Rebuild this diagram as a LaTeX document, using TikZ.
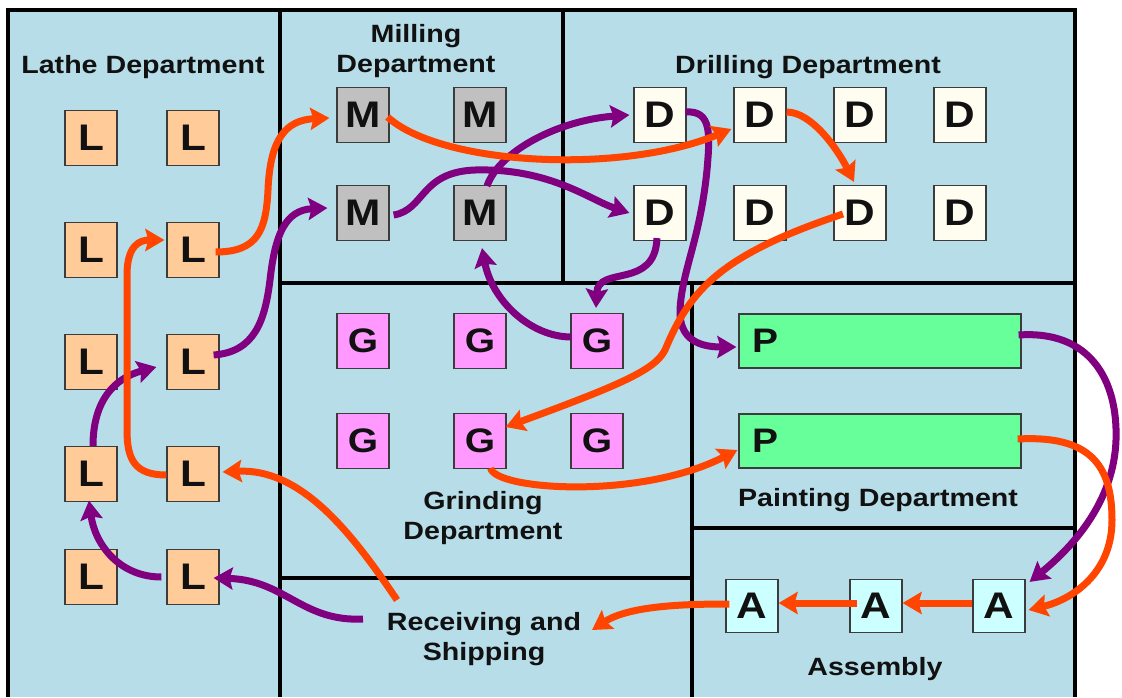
\documentclass[tikz,border=0pt]{standalone}
\usepackage{fontspec}
\setmainfont{Liberation Sans}[FakeStretch=1.145]
\usetikzlibrary{arrows.meta,calc}
\definecolor{cBg}{RGB}{182,221,232}
\definecolor{cL}{RGB}{255,204,153}
\definecolor{cM}{RGB}{192,192,192}
\definecolor{cD}{RGB}{255,252,240}
\definecolor{cG}{RGB}{255,153,255}
\definecolor{cP}{RGB}{102,255,153}
\definecolor{cA}{RGB}{204,255,255}
\definecolor{cOr}{RGB}{255,69,0}
\definecolor{cPu}{RGB}{128,0,128}
\definecolor{cEdge}{RGB}{60,60,60}
\definecolor{cText}{RGB}{17,17,17}
\begin{document}
\begin{tikzpicture}[x=1pt,y=-1pt,
  wall/.style={line width=4pt, draw=black},
  mach/.style={draw=cEdge, line width=1.2pt, minimum width=52pt, minimum height=55pt,
    inner sep=0pt, font=\fontsize{37}{40}\selectfont\bfseries, text=cText},
  machs/.style={mach, font=\fontsize{34}{38}\selectfont\bfseries},
  lbox/.style={mach, fill=cL},
  mbox/.style={mach, fill=cM},
  dbox/.style={mach, fill=cD},
  gbox/.style={machs, fill=cG},
  abox/.style={mach, fill=cA, minimum height=53pt},
  pbox/.style={machs, fill=cP, minimum width=282pt, minimum height=54pt,
    text width=256pt, inner xsep=13pt, align=left},
  dept/.style={inner sep=0pt, font=\fontsize{25}{30}\selectfont\bfseries, align=center, text=cText},
  oflow/.style={draw=cOr, line width=7pt, -{Stealth[length=19pt,width=22pt,inset=3pt]}},
  pflow/.style={draw=cPu, line width=7pt, -{Stealth[length=19pt,width=22pt,inset=3pt]}}
]
\useasboundingbox (0,0) rectangle (1122,697);
\fill[white] (0,0) rectangle (1122,697);
\fill[cBg] (8,10) rectangle (1075,697);
% walls
\draw[wall] (8,697) -- (8,10) -- (1075,10) -- (1075,697);
\draw[wall] (280,10) -- (280,697);
\draw[wall] (563,10) -- (563,283);
\draw[wall] (280,283) -- (1075,283);
\draw[wall] (692,283) -- (692,697);
\draw[wall] (280,578) -- (692,578);
\draw[wall] (692,528) -- (1075,528);

% department labels
\node[dept, anchor=base] (lathe) at (143,73) {Lathe Department};
\node[dept] (mill) at (416,51.2) {Milling\\Department};
\node[dept, anchor=base] (drill) at (808,73) {Drilling Department};
\node[dept] (grind) at (483,517.6) {Grinding\\Department};
\node[dept, anchor=base] (paintlab) at (878,506) {Painting Department};
\node[dept] (rs) at (484,638.6) {Receiving and\\Shipping};
\node[dept, anchor=base] (asm) at (875,675) {Assembly};

% lathe machines
\foreach \r/\y in {1/138,2/250,3/362,4/474,5/577}{
  \node[lbox] (L\r1) at (91,\y) {L};
  \node[lbox] (L\r2) at (193,\y) {L};
}
% milling
\node[mbox] (M11) at (363,115) {M};
\node[mbox] (M12) at (480,115) {M};
\node[mbox] (M21) at (363,213) {M};
\node[mbox] (M22) at (480,213) {M};
% drilling
\foreach \c/\x in {1/660,2/760,3/860,4/960}{
  \node[dbox] (D1\c) at (\x,115) {D};
  \node[dbox] (D2\c) at (\x,213) {D};
}
% grinding
\foreach \c/\x in {1/363,2/480,3/597}{
  \node[gbox] (G1\c) at (\x,341) {G};
  \node[gbox] (G2\c) at (\x,441) {G};
}
% painting
\node[pbox] (P1) at (880,341) {P};
\node[pbox] (P2) at (880,441) {P};
% assembly
\node[abox] (A1) at (752,606) {A};
\node[abox] (A2) at (876,606) {A};
\node[abox] (A3) at (999,606) {A};

% purple route
\draw[pflow] ($(rs)+(-121,-19.6)$) .. controls (302,622) and (285,580) .. ($(L52.east)+(-6,1)$);
\draw[pflow] ($(L52.west)+(-5,0)$) .. controls (120,577) and (95,545) .. ($(L41.south)+(-2,-1.5)$);
\draw[pflow] ($(L41.north)+(2,0)$) .. controls (93,400) and (115,378) .. ($(L32.west)+(-10,5)$);
\draw[pflow] ($(L32.east)+(-6,-7)$) .. controls (255,352) and (265,320) .. (270,280)
   .. controls (275,235) and (285,210) .. ($(M21.west)+(-9,-5)$);
\draw[pflow] ($(M21.east)+(4,2)$) .. controls (425,210) and (420,172) .. (475,170)
   .. controls (550,168) and (590,200) .. ($(D21.west)+(-4,0)$);
\draw[pflow] ($(M22.north)+(7,1)$) .. controls (500,150) and (560,120) .. ($(D11.west)+(-4,0)$);
\draw[pflow] ($(D11.east)+(-1,-3)$) .. controls (712,110) and (710,135) .. (707,170)
   .. controls (700,240) and (682,270) .. (680,310)
   .. controls (679,340) and (700,347) .. ($(P1.west)+(-2,6)$);
\draw[pflow] ($(D21.south)+(-3,-3)$) .. controls (655,290) and (598,265) .. ($(G13.north)+(-1,-5)$);
\draw[pflow] ($(G13.west)+(1,-4)$) .. controls (530,337) and (492,300) .. ($(M22.south)+(2,7)$);
\draw[pflow] ($(P1.east)+(-3,-6)$) .. controls (1090,330) and (1118,380) .. (1116,440)
   .. controls (1114,500) and (1075,545) .. ($(A3.north east)+(4,3)$);

% orange route
\draw[oflow] ($(rs)+(-87,-38.6)$) .. controls (350,530) and (300,468) .. ($(L42.east)+(3,-2)$);
\draw[oflow] ($(L42.west)+(0,1)$) .. controls (135,475) and (127,460) .. (127,430)
   -- (127,275) .. controls (127,245) and (140,240) .. ($(L22.west)+(-2,-10)$);
\draw[oflow] ($(L22.east)+(-4,2)$) .. controls (258,252) and (266,230) .. (268,190)
   .. controls (270,140) and (285,120) .. ($(M11.west)+(-7,3)$);
\draw[oflow] ($(M11.east)+(-2,2)$) .. controls (440,165) and (620,175) .. ($(D12.west)+(-2,14)$);
\draw[oflow] ($(D12.east)+(0,-3)$) .. controls (812,112) and (838,150) .. ($(D23.north)+(-6,-3)$);
\draw[oflow] ($(D23)+(-17,1)$) .. controls (720,255) and (690,290) .. (665,350)
   .. controls (655,370) and (620,385) .. ($(G22.east)+(-1,-14)$);
\draw[oflow] ($(G22.south east)+(-16,-1)$) .. controls (495,490) and (640,500) .. ($(P2.west)+(-1,9)$);
\draw[oflow] ($(P2.east)+(-4,-2)$) .. controls (1090,435) and (1112,465) .. (1112,520)
   .. controls (1112,575) and (1070,600) .. ($(A3.east)+(3,4)$);
\draw[oflow] ($(A3.west)+(0,-3)$) -- ($(A2.east)+(0,-3)$);
\draw[oflow] ($(A2.west)+(8,-3)$) -- ($(A1.east)+(0,-3)$);
\draw[oflow] ($(A1.west)+(4,-2)$) .. controls (690,604) and (630,605) .. ($(rs)+(108,-8.6)$);
\end{tikzpicture}
\end{document}
